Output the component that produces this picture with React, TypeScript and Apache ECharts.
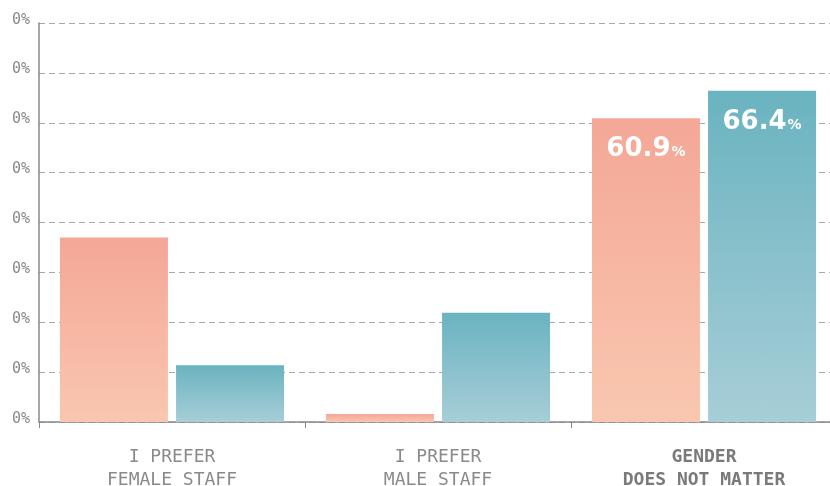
import React, { useEffect, useRef } from "react";
import * as echarts from "echarts";

const categories = ["I PREFER\nFEMALE STAFF", "I PREFER\nMALE STAFF", "GENDER\nDOES NOT MATTER"];
const femaleStaffValues = [37.0, 1.6, 60.9];
const maleStaffValues = [11.4, 21.9, 66.4];
const labelledIndex = 2;
const yTickLabel = "0%";

export default function App() {
  const ref = useRef<HTMLDivElement>(null);
  useEffect(() => {
    if (!ref.current) return;
    const chart = echarts.init(ref.current, null, { renderer: "svg" });
    const labelCfg = {
      show: true,
      position: "insideTop",
      distance: 14,
      formatter: (p: any) => `{v|${p.value.toFixed(1)}}{p|%}`,
      rich: {
        v: { fontFamily: "DejaVu Sans", fontWeight: "bold", fontSize: 26, color: "#fff", lineHeight: 28, verticalAlign: "bottom" },
        p: { fontFamily: "DejaVu Sans", fontWeight: "bold", fontSize: 14, color: "#fff", lineHeight: 28, verticalAlign: "bottom", padding: [0, 0, 2, 1] },
      },
    };
    const mkData = (vals: number[]) =>
      vals.map((v, i) => ({ value: v, label: i === labelledIndex ? labelCfg : { show: false } }));
    const grad = (top: string, bottom: string) =>
      new echarts.graphic.LinearGradient(0, 0, 0, 1, [
        { offset: 0, color: top },
        { offset: 1, color: bottom },
      ]);
    chart.setOption({
      animation: false,
      grid: { left: 39, top: 23, width: 798, height: 399, containLabel: false, outerBoundsMode: "none" },
      xAxis: {
        type: "category",
        data: categories,
        axisLine: { lineStyle: { color: "#888", width: 1.5 } },
        axisTick: { show: true, length: 6, lineStyle: { color: "#888" } },
        axisLabel: {
          margin: 22,
          fontFamily: "DejaVu Sans Mono",
          fontSize: 18,
          lineHeight: 23,
          color: "#8a8a8a",
          formatter: (v: string, i: number) => (i === labelledIndex ? `{b|${v}}` : v),
          rich: {
            b: { fontFamily: "DejaVu Sans Mono", fontSize: 18, lineHeight: 23, fontWeight: "bold", color: "#7a7a7a" },
          },
        },
      },
      yAxis: {
        type: "value",
        min: 0,
        max: 80,
        interval: 10,
        axisLine: { show: true, lineStyle: { color: "#888", width: 1.5 } },
        axisTick: { show: false },
        splitLine: { lineStyle: { color: "#a8a8a8", type: [6, 4], width: 1 } },
        axisLabel: {
          formatter: () => yTickLabel,
          fontFamily: "DejaVu Sans Mono",
          fontSize: 15,
          color: "#8a8a8a",
          margin: 9,
          verticalAlign: "bottom",
          lineHeight: 9,
        },
      },
      series: [
        {
          type: "bar",
          data: mkData(femaleStaffValues),
          barWidth: 108,
          barGap: "7.5%",
          itemStyle: { color: grad("#f4a797", "#f9c7af") },
        },
        {
          type: "bar",
          data: mkData(maleStaffValues),
          barWidth: 108,
          itemStyle: { color: grad("#6ab3c0", "#a7ced7") },
        },
      ],
    });
    return () => chart.dispose();
  }, []);
  return (
    <div style={{ position: "fixed", left: 0, top: 0, width: 830, height: 486, overflow: "hidden" }}>
      <div ref={ref} style={{ width: 830, height: 486, overflow: "hidden" }} />
    </div>
  );
}
